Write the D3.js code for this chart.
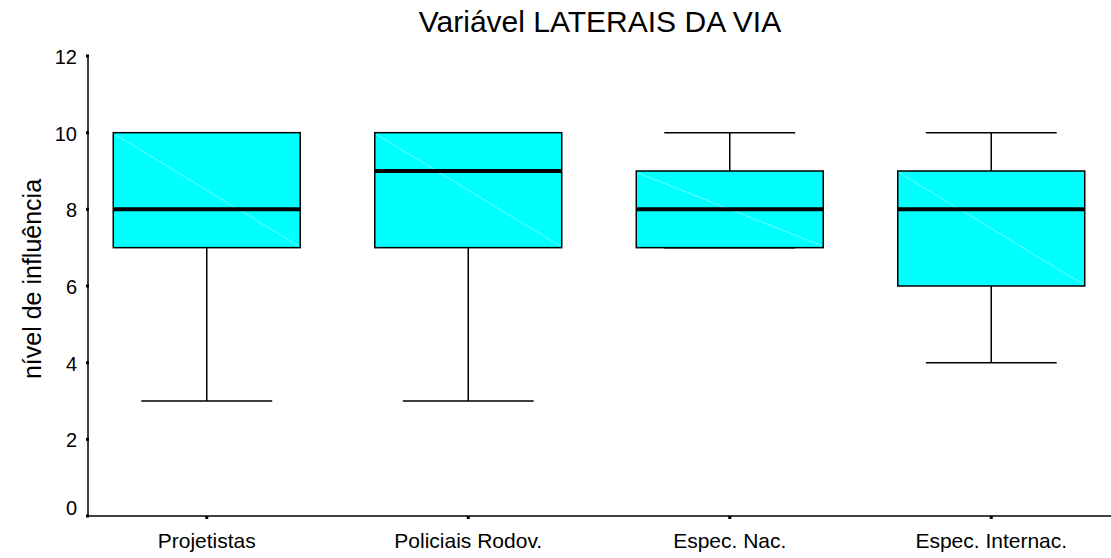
<!DOCTYPE html>
<html>
<head>
<meta charset="utf-8">
<script src="https://d3js.org/d3.v7.min.js"></script>
<style>
  body { margin: 0; background: #fff; }
  text { font-family: "Liberation Sans", Arial, sans-serif; fill: #000; }
</style>
</head>
<body>
<div class="canvas"></div>
<script>
const dims = { width: 1111, height: 558 };

// data
const categories = ["Projetistas", "Policiais Rodov.", "Espec. Nac.", "Espec. Internac."];
const mins    = [3, 3, 7, 4];
const q1s     = [7, 7, 7, 6];
const medians = [8, 9, 8, 8];
const q3s     = [10, 10, 9, 9];
const maxs    = [10, 10, 10, 10];
const yTicks  = [0, 2, 4, 6, 8, 10, 12];

const boxes = categories.map((c, i) => ({
  name: c, min: mins[i], q1: q1s[i], med: medians[i], q3: q3s[i], max: maxs[i]
}));

const svg = d3.select(".canvas").append("svg")
  .attr("width", dims.width)
  .attr("height", dims.height);

const x = d3.scaleBand().domain(categories).range([76, 1122]).padding(0);
const y = d3.scaleLinear().domain([0, 12]).range([516, 56]);

const boxW = x.bandwidth() * 0.715;
const capW = boxW * 0.7;
const cx = (d) => x(d.name) + x.bandwidth() / 2;

// axes
svg.append("line")
  .attr("x1", 88).attr("x2", 88)
  .attr("y1", y(12)).attr("y2", y(0))
  .attr("stroke", "#000").attr("stroke-width", 1.5);
svg.append("line")
  .attr("x1", 88).attr("x2", dims.width)
  .attr("y1", y(0)).attr("y2", y(0))
  .attr("stroke", "#000").attr("stroke-width", 1.5);

// y ticks (small squares) + labels
svg.selectAll(".ytick").data(yTicks).enter().append("rect")
  .attr("x", 86).attr("y", (d) => y(d) - 1.5)
  .attr("width", 3).attr("height", 3).attr("fill", "#000");
svg.selectAll(".ylab").data(yTicks).enter().append("text")
  .attr("x", 77)
  .attr("y", (d) => (d === 0 ? y(d) - 1 : y(d) + 8))
  .attr("text-anchor", "end")
  .attr("font-size", 20)
  .text((d) => d);

// x ticks + labels
svg.selectAll(".xtick").data(boxes).enter().append("rect")
  .attr("x", (d) => cx(d) - 1.5).attr("y", y(0))
  .attr("width", 3).attr("height", 3).attr("fill", "#000");
svg.selectAll(".xlab").data(boxes).enter().append("text")
  .attr("x", cx).attr("y", 548)
  .attr("text-anchor", "middle")
  .attr("font-size", 21)
  .text((d) => d.name);

// title + y label
svg.append("text")
  .attr("x", 600).attr("y", 32)
  .attr("text-anchor", "middle")
  .attr("font-size", 30)
  .text("Variável LATERAIS DA VIA");
svg.append("text")
  .attr("transform", "translate(41, 279) rotate(-90)")
  .attr("text-anchor", "middle")
  .attr("font-size", 25)
  .text("nível de influência");

// boxes
const g = svg.selectAll(".box").data(boxes).enter().append("g");

// whiskers
g.append("line")
  .attr("x1", cx).attr("x2", cx)
  .attr("y1", (d) => y(d.max)).attr("y2", (d) => y(d.q3))
  .attr("stroke", "#000").attr("stroke-width", 1.5);
g.append("line")
  .attr("x1", cx).attr("x2", cx)
  .attr("y1", (d) => y(d.q1)).attr("y2", (d) => y(d.min))
  .attr("stroke", "#000").attr("stroke-width", 1.5);
g.append("line")
  .attr("x1", (d) => cx(d) - capW / 2).attr("x2", (d) => cx(d) + capW / 2)
  .attr("y1", (d) => y(d.max)).attr("y2", (d) => y(d.max))
  .attr("stroke", "#000").attr("stroke-width", 1.5);
g.append("line")
  .attr("x1", (d) => cx(d) - capW / 2).attr("x2", (d) => cx(d) + capW / 2)
  .attr("y1", (d) => y(d.min)).attr("y2", (d) => y(d.min))
  .attr("stroke", "#000").attr("stroke-width", 1.5);

g.append("rect")
  .attr("x", (d) => cx(d) - boxW / 2)
  .attr("y", (d) => y(d.q3))
  .attr("width", boxW)
  .attr("height", (d) => y(d.q1) - y(d.q3))
  .attr("fill", "#00ffff")
  .attr("stroke", "#000").attr("stroke-width", 1.5);

// faint diagonal seen in the boxes
g.append("line")
  .attr("x1", (d) => cx(d) - boxW / 2 + 2).attr("y1", (d) => y(d.q3) + 2)
  .attr("x2", (d) => cx(d) + boxW / 2 - 2).attr("y2", (d) => y(d.q1) - 2)
  .attr("stroke", "#b8ffff").attr("stroke-width", 0.6);

// median
g.append("line")
  .attr("x1", (d) => cx(d) - boxW / 2).attr("x2", (d) => cx(d) + boxW / 2)
  .attr("y1", (d) => y(d.med)).attr("y2", (d) => y(d.med))
  .attr("stroke", "#000").attr("stroke-width", 4);
</script>
</body>
</html>
